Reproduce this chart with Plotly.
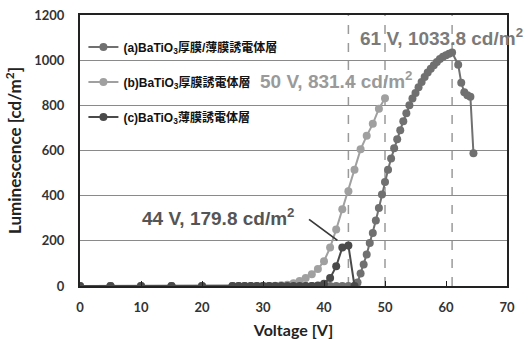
import plotly.graph_objects as go

# ---------------- data ----------------
a_v = [0, 5, 10, 15, 20, 25, 26, 27, 28, 29, 30, 31, 32, 33, 34, 35, 36, 37, 38, 39, 40, 41, 42, 43, 44,
       45, 45.5, 46, 46.5, 47, 47.5, 48, 48.5, 49, 49.5, 50, 50.5, 51, 51.5, 52, 52.5, 53, 53.5, 54, 54.5,
       55, 55.5, 56, 56.5, 57, 57.5, 58, 58.5, 59, 59.5, 60, 60.5, 61, 62, 62.5, 63, 63.5, 64, 64.5]
a_l = [0, 0, 0, 0, 0, 0, 0, 0, 0, 0, 0, 0, 0, 0, 0, 0, 0, 0, 0, 0, 0, 0, 0, 0, 0,
       0, 15, 55, 95, 140, 190, 235, 290, 345, 405, 460, 515, 565, 610, 650, 690, 730, 765, 800, 830,
       855, 880, 903, 925, 945, 962, 978, 992, 1005, 1015, 1022, 1028, 1033.8, 980, 900, 858, 845, 838, 588]

b_v = [0, 5, 10, 15, 20, 25, 27, 29, 30, 31, 32, 33, 34, 35, 36, 37, 38, 39, 40, 41, 42, 43, 44, 45,
       46, 47, 48, 49, 50]
b_l = [0, 0, 0, 0, 0, 0, 0, 0, 0, 0, 1, 3, 6, 12, 22, 35, 52, 75, 110, 170, 250, 340, 420, 515,
       605, 665, 718, 785, 831.4]

c_v = [0, 5, 10, 15, 20, 25, 26, 27, 28, 29, 30, 31, 32, 33, 34, 35, 36, 37, 38, 39, 40, 41, 42, 43,
       44, 45]
c_l = [0, 0, 0, 0, 0, 0, 0, 0, 0, 0, 0, 0, 0, 0, 0, 0, 0, 0, 0, 2, 10, 35, 87, 170,
       179.8, 0]

series_names = ["<b>(a)BaTiO<sub>3</sub>厚膜/薄膜誘電体層</b>",
                "<b>(b)BaTiO<sub>3</sub>厚膜誘電体層</b>",
                "<b>(c)BaTiO<sub>3</sub>薄膜誘電体層</b>"]
series_colors = ["#707070", "#a0a0a0", "#4a4a4a"]

peak_v = [44, 50, 61]
peak_l = [179.8, 831.4, 1033.8]

x_ticks = [0, 10, 20, 30, 40, 50, 60, 70]
y_ticks = [0, 200, 400, 600, 800, 1000, 1200]

# ---------------- figure ----------------
LAT = "Liberation Sans, Noto Sans CJK JP, sans-serif"
TICKF = "Lato, Liberation Sans, sans-serif"

fig = go.Figure()
for i, (xv, yv) in enumerate([(a_v, a_l), (b_v, b_l), (c_v, c_l)]):
    fig.add_trace(go.Scatter(
        x=xv, y=yv, mode="lines+markers", name=series_names[i],
        legendgroup=f"g{i}",
        line=dict(color=series_colors[i], width=2),
        marker=dict(color=series_colors[i], size=8),
    ))

for v in peak_v:
    fig.add_shape(type="line", xref="x", yref="y", x0=v, x1=v, y0=0, y1=1200,
                  line=dict(color="#9a9a9a", width=1.5, dash="dash"), layer="below")

fig.add_annotation(xref="paper", yref="paper", x=0.652, y=0.92, xanchor="left", yanchor="middle",
                   text=f"<b>{peak_v[2]} V, {peak_l[2]} cd/m<sup>2</sup></b>", showarrow=False,
                   font=dict(family=LAT, size=19, color="#7a7a7a"))
fig.add_annotation(xref="paper", yref="paper", x=0.418, y=0.76, xanchor="left", yanchor="middle",
                   text=f"<b>{peak_v[1]} V, {peak_l[1]} cd/m<sup>2</sup></b>", showarrow=False,
                   font=dict(family=LAT, size=19, color="#9a9a9a"))
fig.add_annotation(xref="paper", yref="paper", x=0.14, y=0.255, xanchor="left", yanchor="middle",
                   text=f"<b>{peak_v[0]} V, {peak_l[0]} cd/m<sup>2</sup></b>", showarrow=False,
                   font=dict(family=LAT, size=19, color="#555555"))
fig.add_annotation(x=42.2, y=202, ax=37.3, ay=300, xref="x", yref="y", axref="x", ayref="y",
                   text="", showarrow=True, arrowhead=0, arrowwidth=1.8, arrowcolor="#3a3a3a")

fig.update_layout(
    width=528, height=339,
    margin=dict(l=80, r=21, t=15, b=53),
    paper_bgcolor="white", plot_bgcolor="white",
    showlegend=True,
    legend=dict(x=0.008, y=0.935, xanchor="left", yanchor="top",
                bgcolor="rgba(255,255,255,0)", borderwidth=0,
                font=dict(family=LAT, size=12, color="#111111"),
                tracegroupgap=16, itemwidth=30, traceorder="grouped"),
    xaxis=dict(range=[0, 70], tickvals=x_ticks, showgrid=False, zeroline=False, automargin=False,
               showline=True, linecolor="#222222", linewidth=2, mirror=True,
               ticks="inside", ticklen=5, tickcolor="#222222", ticklabelstandoff=8,
               tickfont=dict(family=TICKF, size=13, color="#333333", weight="bold"),
               title=dict(text="<b>Voltage [V]</b>", standoff=14,
                          font=dict(family=TICKF, size=16, color="#222222"))),
    yaxis=dict(range=[0, 1200], tickvals=y_ticks, showgrid=True, gridcolor="#8a8a8a", gridwidth=1.3,
               zeroline=False, showline=True, linecolor="#222222", linewidth=2, mirror=True,
               automargin=False, ticklabelstandoff=11,
               ticks="", tickfont=dict(family=TICKF, size=13, color="#333333", weight="bold"),
               title=dict(text="<b>Luminescence [cd/m<sup>2</sup>]</b>", standoff=8,
                          font=dict(family=TICKF, size=17, color="#222222"))),
)

fig.write_html("out.html", config={"displayModeBar": False},
               post_script="document.body.style.margin='0';")
